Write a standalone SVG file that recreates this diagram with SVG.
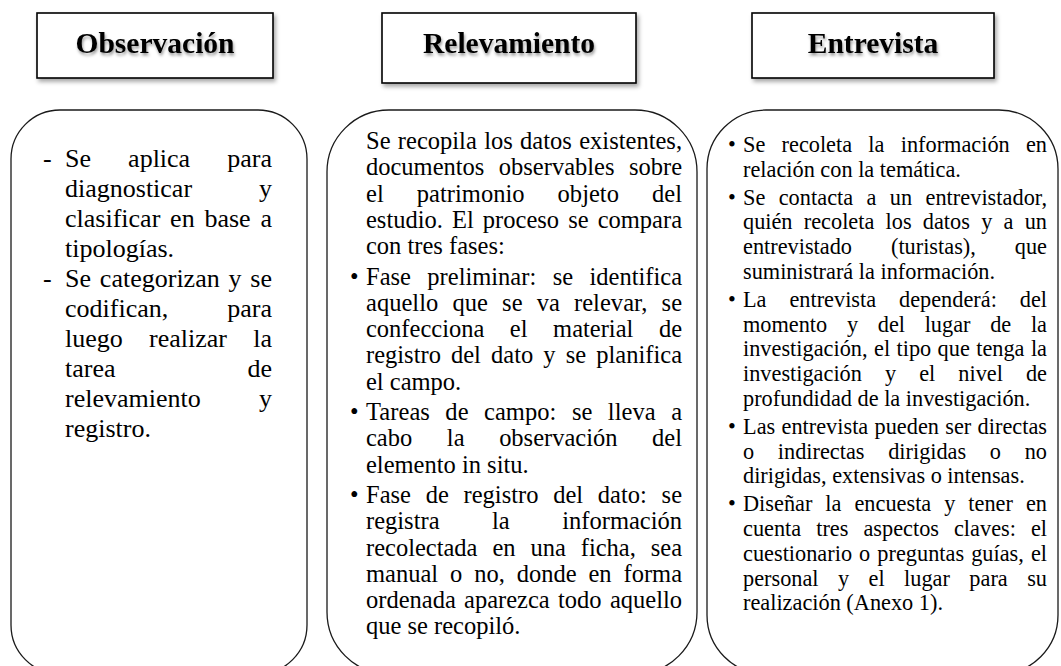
<svg xmlns="http://www.w3.org/2000/svg" width="1061" height="666" viewBox="0 0 1061 666">
<defs>
<style>
.box{fill:#fff;stroke:#000;stroke-width:1.6}
.title{font-family:"Liberation Serif","Times New Roman",serif;font-weight:bold;font-size:29.5px;text-anchor:middle;fill:#000}
.panel{fill:#fff;stroke:#1a1a1a;stroke-width:1.3}
.t1,.t2,.t3{font-family:"Liberation Serif","Times New Roman",serif;fill:#000}
.t1{font-size:26px}
.t2{font-size:24.5px}
.t3{font-size:22.3px}
.r{text-anchor:end}
.arrow{fill:none;stroke:#000;stroke-width:6.5;stroke-linecap:round}
.chev{fill:none;stroke:#000;stroke-width:6.5;stroke-linecap:round;stroke-linejoin:round}
</style>
<filter id="sh" x="-10%" y="-20%" width="130%" height="160%">
<feDropShadow dx="2" dy="3" stdDeviation="2.2" flood-color="#000" flood-opacity="0.35"/>
</filter>
<filter id="tsh" x="-10%" y="-30%" width="130%" height="180%">
<feDropShadow dx="1" dy="2.5" stdDeviation="1.6" flood-color="#000" flood-opacity="0.4"/>
</filter>
<marker id="chev" markerUnits="userSpaceOnUse" viewBox="-28 -16 34 32" refX="0" refY="0" markerWidth="34" markerHeight="32" orient="auto" overflow="visible">
<path class="chev" d="M-21,-11.5 L0,0 L-21,11.5"/>
</marker>
</defs>
<rect width="1061" height="666" fill="#fff"/>

<g id="node-observacion">
<rect class="box" x="37" y="13" width="236" height="65" filter="url(#sh)"/>
<text class="title" x="155" y="53" filter="url(#tsh)">Observación</text>
</g>
<g id="node-relevamiento">
<rect class="box" x="382" y="13" width="254" height="70" filter="url(#sh)"/>
<text class="title" x="509" y="53" filter="url(#tsh)">Relevamiento</text>
</g>
<g id="node-entrevista">
<rect class="box" x="752" y="13" width="242" height="65" filter="url(#sh)"/>
<text class="title" x="873" y="53" filter="url(#tsh)">Entrevista</text>
</g>

<g id="connectors" filter="url(#sh)">
<path class="arrow" d="M284,44 H368" marker-end="url(#chev)"/>
<path class="arrow" d="M640,44 H743" marker-end="url(#chev)"/>
</g>

<g id="panel-observacion">
<rect class="panel" x="11" y="110" width="296" height="564" rx="49" ry="49"/>
<text class="t1" x="43" y="167">-</text>
<text class="t1" x="65" y="167" textLength="207" lengthAdjust="spacing" style="word-spacing:30.6px">Se aplica para</text>
<text class="t1" x="65" y="197">diagnosticar</text>
<text class="t1 r" x="272" y="197">y</text>
<text class="t1" x="65" y="227" textLength="207" lengthAdjust="spacing" style="word-spacing:3.3px">clasificar en base a</text>
<text class="t1" x="65" y="257">tipologías.</text>
<text class="t1" x="43" y="287">-</text>
<text class="t1" x="65" y="287" textLength="207" lengthAdjust="spacing" style="word-spacing:2.3px">Se categorizan y se</text>
<text class="t1" x="65" y="317">codifican,</text>
<text class="t1 r" x="272" y="317">para</text>
<text class="t1" x="65" y="347" textLength="207" lengthAdjust="spacing" style="word-spacing:19.7px">luego realizar la</text>
<text class="t1" x="65" y="377">tarea</text>
<text class="t1 r" x="272" y="377">de</text>
<text class="t1" x="65" y="407">relevamiento</text>
<text class="t1 r" x="272" y="407">y</text>
<text class="t1" x="65" y="437">registro.</text>
</g>

<g id="panel-relevamiento">
<rect class="panel" x="327" y="110" width="370" height="564" rx="62" ry="62"/>
<text class="t2" x="366" y="149" textLength="316" lengthAdjust="spacing" style="word-spacing:1.2px">Se recopila los datos existentes,</text>
<text class="t2" x="366" y="175.3" textLength="316" lengthAdjust="spacing" style="word-spacing:8.3px">documentos observables sobre</text>
<text class="t2" x="366" y="201.6" textLength="316" lengthAdjust="spacing" style="word-spacing:27px">el patrimonio objeto del</text>
<text class="t2" x="366" y="227.9" textLength="316" lengthAdjust="spacing" style="word-spacing:3px">estudio. El proceso se compara</text>
<text class="t2" x="366" y="254.2">con tres fases:</text>
<text class="t2" x="350" y="284.5">•</text>
<text class="t2" x="366" y="284.5" textLength="316" lengthAdjust="spacing" style="word-spacing:10.3px">Fase preliminar: se identifica</text>
<text class="t2" x="366" y="310.8" textLength="316" lengthAdjust="spacing" style="word-spacing:8px">aquello que se va relevar, se</text>
<text class="t2" x="366" y="337.1" textLength="316" lengthAdjust="spacing" style="word-spacing:19.4px">confecciona el material de</text>
<text class="t2" x="366" y="363.4" textLength="316" lengthAdjust="spacing" style="word-spacing:4px">registro del dato y se planifica</text>
<text class="t2" x="366" y="389.7">el campo.</text>
<text class="t2" x="350" y="420">•</text>
<text class="t2" x="366" y="420" textLength="316" lengthAdjust="spacing" style="word-spacing:9.2px">Tareas de campo: se lleva a</text>
<text class="t2" x="366" y="446.3" textLength="316" lengthAdjust="spacing" style="word-spacing:28.5px">cabo la observación del</text>
<text class="t2" x="366" y="472.6">elemento in situ.</text>
<text class="t2" x="350" y="502.9">•</text>
<text class="t2" x="366" y="502.9" textLength="316" lengthAdjust="spacing" style="word-spacing:8.6px">Fase de registro del dato: se</text>
<text class="t2" x="366" y="529.2" textLength="316" lengthAdjust="spacing" style="word-spacing:46.4px">registra la información</text>
<text class="t2" x="366" y="555.5" textLength="316" lengthAdjust="spacing" style="word-spacing:8.8px">recolectada en una ficha, sea</text>
<text class="t2" x="366" y="581.8" textLength="316" lengthAdjust="spacing" style="word-spacing:5.8px">manual o no, donde en forma</text>
<text class="t2" x="366" y="608.1" textLength="316" lengthAdjust="spacing" style="word-spacing:2.2px">ordenada aparezca todo aquello</text>
<text class="t2" x="366" y="634.4">que se recopiló.</text>
</g>

<g id="panel-entrevista">
<rect class="panel" x="707" y="110" width="351" height="564" rx="59" ry="59"/>
<text class="t3" x="728" y="152">•</text>
<text class="t3" x="743" y="152" textLength="304" lengthAdjust="spacing" style="word-spacing:10.7px">Se recoleta la información en</text>
<text class="t3" x="743" y="176.8">relación con la temática.</text>
<text class="t3" x="728" y="204.6">•</text>
<text class="t3" x="743" y="204.6" textLength="304" lengthAdjust="spacing" style="word-spacing:7.7px">Se contacta a un entrevistador,</text>
<text class="t3" x="743" y="229.4" textLength="304" lengthAdjust="spacing" style="word-spacing:5.7px">quién recoleta los datos y a un</text>
<text class="t3" x="743" y="254.2" textLength="304" lengthAdjust="spacing" style="word-spacing:33.4px">entrevistado (turistas), que</text>
<text class="t3" x="743" y="279">suministrará la información.</text>
<text class="t3" x="728" y="306.8">•</text>
<text class="t3" x="743" y="306.8" textLength="304" lengthAdjust="spacing" style="word-spacing:17.3px">La entrevista dependerá: del</text>
<text class="t3" x="743" y="331.6" textLength="304" lengthAdjust="spacing" style="word-spacing:14.1px">momento y del lugar de la</text>
<text class="t3" x="743" y="356.4" textLength="304" lengthAdjust="spacing" style="word-spacing:0.8px">investigación, el tipo que tenga la</text>
<text class="t3" x="743" y="381.2" textLength="304" lengthAdjust="spacing" style="word-spacing:17.5px">investigación y el nivel de</text>
<text class="t3" x="743" y="406">profundidad de la investigación.</text>
<text class="t3" x="728" y="433.8">•</text>
<text class="t3" x="743" y="433.8" textLength="304" lengthAdjust="spacing" style="word-spacing:0.7px">Las entrevista pueden ser directas</text>
<text class="t3" x="743" y="458.6" textLength="304" lengthAdjust="spacing" style="word-spacing:18.1px">o indirectas dirigidas o no</text>
<text class="t3" x="743" y="483.4">dirigidas, extensivas o intensas.</text>
<text class="t3" x="728" y="511.2">•</text>
<text class="t3" x="743" y="511.2" textLength="304" lengthAdjust="spacing" style="word-spacing:7.4px">Diseñar la encuesta y tener en</text>
<text class="t3" x="743" y="536" textLength="304" lengthAdjust="spacing" style="word-spacing:9.4px">cuenta tres aspectos claves: el</text>
<text class="t3" x="743" y="560.8" textLength="304" lengthAdjust="spacing" style="word-spacing:1.5px">cuestionario o preguntas guías, el</text>
<text class="t3" x="743" y="585.6" textLength="304" lengthAdjust="spacing" style="word-spacing:13.9px">personal y el lugar para su</text>
<text class="t3" x="743" y="610.4">realización (Anexo 1).</text>
</g>
</svg>
